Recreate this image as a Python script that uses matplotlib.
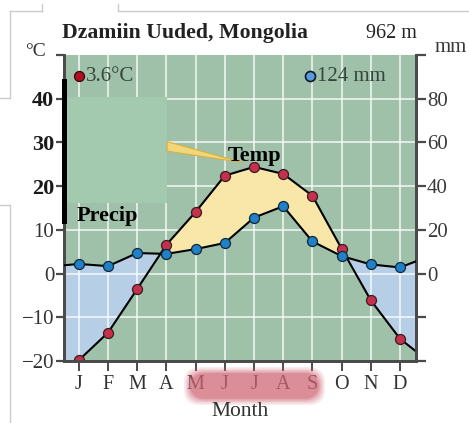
import numpy as np
import matplotlib
matplotlib.use("Agg")
import matplotlib.pyplot as plt
from matplotlib.patches import Rectangle, Polygon, FancyBboxPatch
from matplotlib.lines import Line2D

# monthly values
months = ['J', 'F', 'M', 'A', 'M', 'J', 'J', 'A', 'S', 'O', 'N', 'D']
temp_c = [-19.8, -13.5, -3.5, 6.6, 14.1, 22.4, 24.4, 22.8, 17.8, 5.7, -6.1, -14.9]
precip_mm = [4.4, 3.4, 9.4, 9.0, 11.2, 14.0, 25.6, 30.8, 14.7, 8.0, 4.2, 2.8]
# where the lines leave the frame on each side
temp_edges = [-21.0, -17.8]
precip_edges = [3.8, 5.6]

title = "Dzamiin Uuded, Mongolia"
elevation = "962 m"
mean_temp = "3.6°C"
total_precip = "124 mm"

left_ticks = [-20, -10, 0, 10, 20, 30, 40, 50]
left_labels = ['\u221220', '\u221210', '0', '10', '20', '30', '40', '']
right_ticks = [-40, -20, 0, 20, 40, 60, 80, 100]
right_labels = ['', '', '0', '20', '40', '60', '80', '']

W, H = 469, 423
serif = ['Liberation Serif', 'DejaVu Serif']
plt.rcParams['font.family'] = serif

bg = '#9fc1aa'
dark = '#4a4a4a'

fig = plt.figure(figsize=(W / 100, H / 100), dpi=100)
ax = fig.add_axes([64 / W, 1 - 361 / H, (416 - 64) / W, (361 - 55) / H])
ax.set_facecolor(bg)
xl = (0.49, 12.55)
ax.set_xlim(*xl)
ax.set_ylim(-20, 50)

x = np.arange(1, 13)
xs = np.concatenate([[xl[0]], x, [xl[1]]])
t_full = np.array([temp_edges[0]] + temp_c + [temp_edges[1]])
p_full = np.array([precip_edges[0]] + precip_mm + [precip_edges[1]])
p_scaled = p_full / 2.0  # 20 mm per 10 degC

# humid (blue) and arid (yellow) areas
ax.fill_between(xs, t_full, p_scaled, where=p_scaled >= t_full, interpolate=True,
                color='#b6cfe6', lw=0, zorder=1)

# grid
for xv in x:
    ax.axvline(xv, color='white', lw=1.2, alpha=0.8, zorder=1.2)
for yv in range(-10, 50, 10):
    ax.axhline(yv, color='white', lw=1.2, alpha=0.8, zorder=1.2)

ax.fill_between(xs, t_full, p_scaled, where=t_full >= p_scaled, interpolate=True,
                color='#f8e7a8', lw=0, zorder=1.5)

# lighter box in the upper left
ax.add_patch(Rectangle((xl[0], 16.2), 4.02 - xl[0], 40.3 - 16.2,
                       facecolor='#a3c9ae', edgecolor='none', zorder=1.6))

# pointer wedge towards the temperature curve
ax.add_patch(Polygon([(4.02, 30.2), (4.02, 28.0), (6.6, 25.4)], closed=True,
                     facecolor='#f0d77a', edgecolor='#d8b040', lw=0.8, zorder=1.7))

ax.plot(x, temp_c, color='black', lw=1.5, zorder=3)
ax.plot([xl[0], 1], [temp_edges[0], temp_c[0]], color='black', lw=1.5, zorder=3)
ax.plot([12, xl[1]], [temp_c[-1], temp_edges[1]], color='black', lw=1.5, zorder=3)
ax.plot(x, temp_c, 'o', ms=7.2, mfc='#c5304c', mec='#3a1c22', mew=0.9, zorder=4)

# ticks and spines
ax.spines['top'].set_visible(False)
for s in ['left', 'right', 'bottom']:
    ax.spines[s].set_color(dark)
    ax.spines[s].set_linewidth(2)
ax.set_yticks(left_ticks)
ax.set_yticklabels(left_labels)
ax.tick_params(axis='y', direction='out', length=6, width=1.6, color=dark,
               labelsize=15, labelcolor='#333333', pad=1)
for lab, val in zip(ax.get_yticklabels(), left_ticks):
    if val in (20, 30, 40):
        lab.set_fontweight('bold')
        lab.set_color('#1a1a1a')
        lab.set_fontsize(16)
ax.set_xticks(x)
ax.set_xticklabels(months)
ax.tick_params(axis='x', direction='out', length=7, width=1.4, color=dark,
               labelsize=14.5, labelcolor='#333333', pad=3)

ax2 = ax.twinx()
ax2.set_ylim(-40, 100)
ax2.set_xlim(*xl)
ax2.spines['top'].set_visible(False)
for s in ['left', 'right', 'bottom']:
    ax2.spines[s].set_color(dark)
    ax2.spines[s].set_linewidth(2)
ax2.set_yticks(right_ticks)
ax2.set_yticklabels(right_labels)
ax2.tick_params(axis='y', direction='out', length=7, width=1.6, color=dark,
                labelsize=15, labelcolor='#3a3a3a', pad=1)

ax2.plot(x, precip_mm, color='black', lw=1.5, zorder=3)
ax2.plot([xl[0], 1], [precip_edges[0], precip_mm[0]], color='black', lw=1.5, zorder=3)
ax2.plot([12, xl[1]], [precip_mm[-1], precip_edges[1]], color='black', lw=1.5, zorder=3)
ax2.plot(x, precip_mm, 'o', ms=7.2, mfc='#2080c8', mec='#102838', mew=0.9, zorder=4)

# black bar on the left edge (temperature scale: 12 to 44 degC)
ax2.add_line(Line2D([xl[0], xl[0]], [24.0, 88.0], color='black', lw=3.6,
                    clip_on=False, zorder=6))

# unit labels at the top of both scales
fig.text(35 / W, 1 - 51 / H, '°C', fontsize=14, color='#333333', ha='center', va='center')
fig.text(451 / W, 1 - 48 / H, 'mm', fontsize=15, color='#3a3a3a', ha='center', va='center')

# legend dots and labels
ax.plot([1.0], [45.1], 'o', ms=7.2, mfc='#b01020', mec='#2a0a0a', mew=0.9, zorder=4)
ax.text(1.25, 45.1, mean_temp, fontsize=15, color='#34463c', va='center', ha='left')
ax.plot([8.92], [45.1], 'o', ms=7.2, mfc='#5a9ae0', mec='#101820', mew=1.2, zorder=4)
ax.text(9.15, 45.1, total_precip, fontsize=15, color='#34463c', va='center', ha='left')

ax.text(7.03, 26.8, 'Temp', fontsize=16, fontweight='bold', color='black',
        ha='center', va='center', zorder=6)
ax.text(1.98, 13.2, 'Precip', fontsize=16, fontweight='bold', color='black',
        ha='center', va='center', zorder=6)

# title row
fig.text(62 / W, 1 - 33 / H, title, fontsize=15.7, fontweight='bold', color='#222222',
         ha='left', va='center')
fig.text(417 / W, 1 - 33 / H, elevation, fontsize=14.5, color='#222222',
         ha='right', va='center')
fig.text(240 / W, 1 - 411 / H, 'Month', fontsize=15.5, color='#333333',
         ha='center', va='center')

# soft red band behind the summer months
for k, a in enumerate([0.12, 0.15, 0.2, 0.28, 0.4]):
    g = 6 - k * 1.5
    box = FancyBboxPatch(((182 + 8 - g) / W, 1 - (402 - 3 + g) / H),
                         (327 - 182 - 16 + 2 * g) / W, (402 - 370 - 6 + 2 * g) / H,
                         boxstyle='round,pad=0,rounding_size=0.035',
                         transform=fig.transFigure, facecolor='#cf6676',
                         edgecolor='none', alpha=a, zorder=0)
    fig.patches.append(box)

# faint page border lines from the source screenshot
edge = '#cccccc'
segs = [((10, 11), (42, 11)), ((118, 11), (469, 11)), ((42, 4), (42, 11)),
        ((118, 4), (118, 11)), ((10, 11), (10, 98)), ((0, 98), (10, 98)),
        ((0, 205), (10, 205)), ((10, 205), (10, 423))]
for (x0, y0), (x1, y1) in segs:
    fig.add_artist(Line2D([x0 / W, x1 / W], [1 - y0 / H, 1 - y1 / H],
                          transform=fig.transFigure, color=edge, lw=1))

fig.savefig('out.png', dpi=100)
